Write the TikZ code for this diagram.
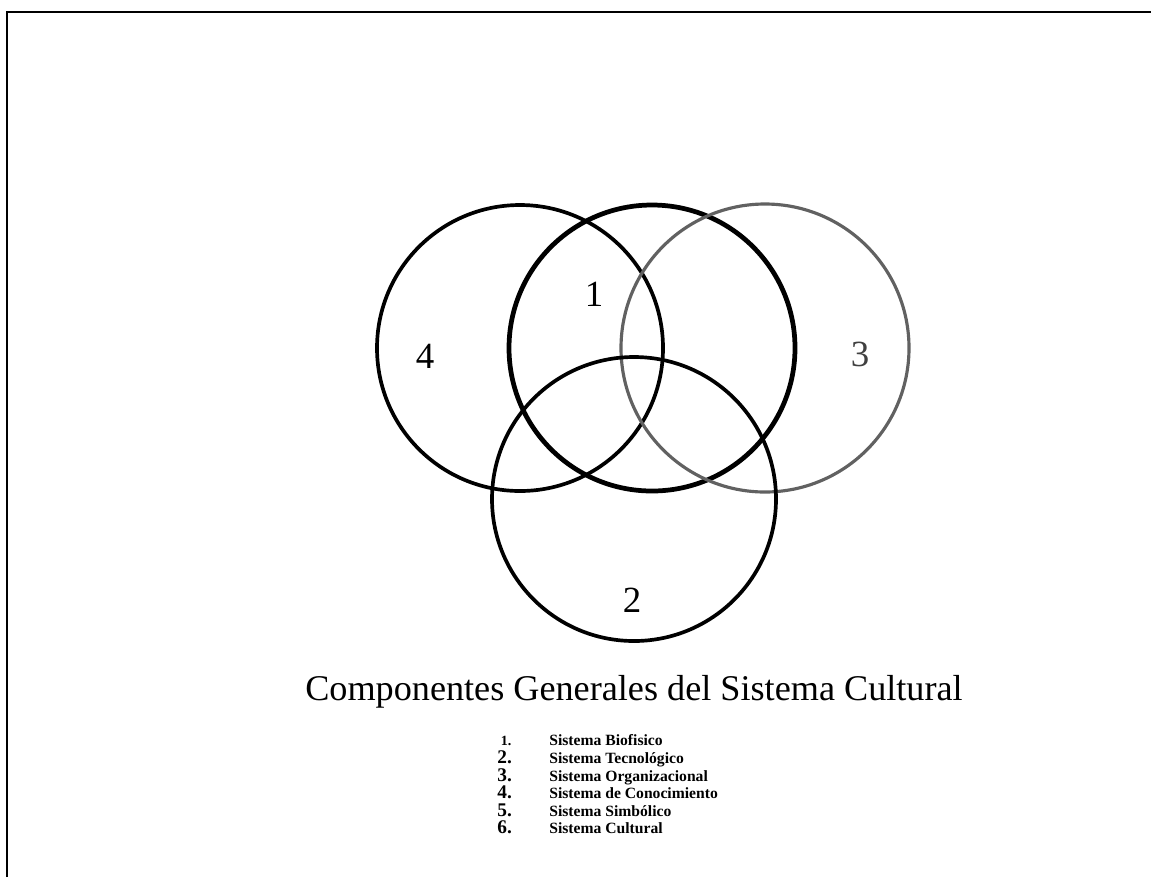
\documentclass[tikz,border=0pt]{standalone}
\usepackage{fontspec}
\setmainfont{Liberation Serif}
\usepackage{tikz}
\usetikzlibrary{positioning}

\begin{document}
\begin{tikzpicture}[x=0.02cm, y=-0.02cm]
\tikzset{ring/.style={line width=2.1pt},
  num/.style={font=\fontsize{21}{23}\selectfont},
  item/.style={font=\fontsize{8.9}{10}\selectfont\bfseries, anchor=base west, inner sep=0pt,
    text height=6.2pt, text depth=1.6pt},
  key/.style={item, font=\fontsize{11}{12}\selectfont\bfseries, text height=7.2pt, text depth=0pt}}
  \useasboundingbox (0,0) rectangle (1151,877);
  % frame (only top and left edges show)
  \draw[line width=1.6pt] (7,877) -- (7,12) -- (1151,12);

  % the four systems
  \draw[ring] (520,348) circle (143);
  \draw[ring, line width=2.7pt] (652,348) circle (143);
  \draw[ring, line width=1.8pt, black!62] (765,348) circle (144);
  \draw[ring] (634,499) circle (142);

  \node[num] (n1) at (594,294) {1};
  \node[num] (n4) at (425,356) {4};
  \node[num, black!75] (n3) at (860,354) {3};
  \node[num] (n2) at (632,600) {2};

  \node[font=\fontsize{20.6}{23}\selectfont] (title) at (634,692) {Componentes Generales del Sistema Cultural};

  \node[item] (s1) at (549,745) {Sistema Biofisico};
  \node[item] (s2) at (549,763) {Sistema Tecnológico};
  \node[item] (s3) at (549,781) {Sistema Organizacional};
  \node[item] (s4) at (549,798) {Sistema de Conocimiento};
  \node[item] (s5) at (549,816) {Sistema Simbólico};
  \node[item] (s6) at (549,833) {Sistema Cultural};
  \coordinate (keys) at (497,0);
  \node[key, font=\fontsize{8}{9}\selectfont\bfseries, text height=5.5pt, xshift=2pt] (k1) at (s1.base west -| keys) {1.};
  \foreach \i in {2,...,6}
    \node[key] (k\i) at (s\i.base west -| keys) {\i.};
\end{tikzpicture}
\end{document}
